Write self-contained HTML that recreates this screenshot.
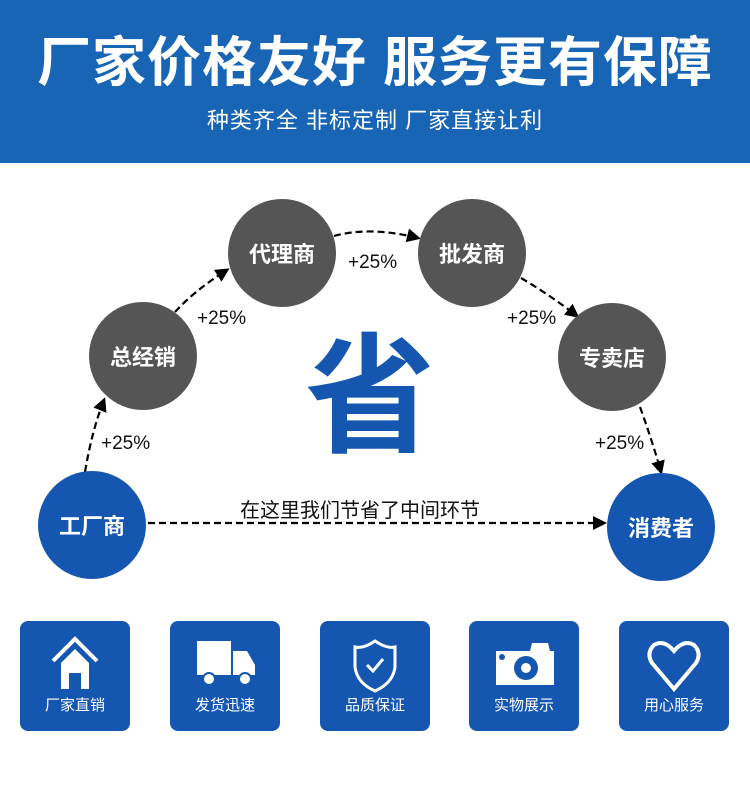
<!DOCTYPE html>
<html><head><meta charset="utf-8"><style>
*{margin:0;padding:0}
body{width:750px;height:797px;background:#fff;position:relative;overflow:hidden;font-family:"Liberation Sans","Noto Sans CJK SC",sans-serif}
.hdr{position:absolute;left:0;top:0;width:750px;height:163px;background:#1865b5}
.t1{position:absolute;left:0;width:750px;top:32px;text-align:center;color:#fff;font-size:54px;font-weight:bold;letter-spacing:1px;line-height:62px}
.t2{position:absolute;left:0;width:750px;top:103px;text-align:center;color:#fff;font-size:22px;letter-spacing:1px}
.c{position:absolute;width:108px;height:108px;border-radius:50%;color:#fff;font-size:22px;font-weight:bold;display:flex;align-items:center;justify-content:center}
.g{background:#555}.b{background:#1557b0}
.p{position:absolute;font-size:19px;color:#111}
.box{position:absolute;top:621px;width:110px;height:110px;border-radius:8px;background:#1557b0}
.box span{position:absolute;left:0;width:110px;top:73px;text-align:center;color:#fff;font-size:15px}
.box svg{position:absolute;left:25px;top:14px}
</style></head><body>
<div class="hdr"></div>
<div class="t1">厂家价格友好 服务更有保障</div>
<div class="t2">种类齐全 非标定制 厂家直接让利</div>
<svg style="position:absolute;left:0;top:0" width="750" height="600">
<defs><marker id="a" markerUnits="userSpaceOnUse" markerWidth="14" markerHeight="14" refX="11" refY="7" orient="auto"><path d="M0,0 L14,7 L0,14z" fill="#000"/></marker></defs>
<g stroke="#000" stroke-width="2.2" stroke-dasharray="7,4" fill="none">
<path d="M85,472 Q92,430 104,400" marker-end="url(#a)"/>
<path d="M175,312 Q195,290 227,270" marker-end="url(#a)"/>
<path d="M334,236 Q370,226 418,238" marker-end="url(#a)"/>
<path d="M521,278 Q550,295 577,316" marker-end="url(#a)"/>
<path d="M640,407 Q652,440 661,472" marker-end="url(#a)"/>
<path d="M148,523 L604,523" marker-end="url(#a)"/>
</g></svg>
<div class="c b" style="left:38px;top:471px">工厂商</div>
<div class="c g" style="left:89px;top:302px">总经销</div>
<div class="c g" style="left:228px;top:199px">代理商</div>
<div class="c g" style="left:418px;top:199px">批发商</div>
<div class="c g" style="left:558px;top:303px">专卖店</div>
<div class="c b" style="left:607px;top:473px">消费者</div>
<div class="p" style="left:101px;top:433px">+25%</div>
<div class="p" style="left:197px;top:308px">+25%</div>
<div class="p" style="left:348px;top:252px">+25%</div>
<div class="p" style="left:507px;top:308px">+25%</div>
<div class="p" style="left:595px;top:433px">+25%</div>
<div style="position:absolute;left:240px;top:494px;font-size:20px;color:#111">在这里我们节省了中间环节</div>
<div style="position:absolute;left:305px;top:322px;font-size:130px;font-weight:bold;color:#1557b0;line-height:150px">省</div>
<div class="box" style="left:20px"><svg width="60" height="60" viewBox="0 0 60 60"><path d="M8,26 L30,4 L52,26" stroke="#fff" stroke-width="4" fill="none"/><path d="M16,28 L30,14 L44,28 L44,54 L36,54 L36,38 L24,38 L24,54 L16,54z" fill="#fff"/></svg><span>厂家直销</span></div>
<div class="box" style="left:170px"><svg width="60" height="60" viewBox="0 0 60 60"><rect x="2" y="6" width="34" height="34" fill="#fff"/><path d="M38,16 L52,16 L60,30 L60,40 L38,40z" fill="#fff"/><circle cx="14" cy="44" r="6" fill="#fff" stroke="#1557b0" stroke-width="2"/><circle cx="50" cy="44" r="6" fill="#fff" stroke="#1557b0" stroke-width="2"/></svg><span>发货迅速</span></div>
<div class="box" style="left:320px"><svg width="60" height="60" viewBox="0 0 60 60"><path d="M30,6 Q42,14 50,12 L50,32 Q48,48 30,56 Q12,48 10,32 L10,12 Q18,14 30,6z" fill="none" stroke="#fff" stroke-width="3"/><path d="M22,30 L28,36 L38,24" stroke="#fff" stroke-width="3" fill="none"/></svg><span>品质保证</span></div>
<div class="box" style="left:469px"><svg width="60" height="60" viewBox="0 0 60 60"><path d="M2,16 L36,16 L38,8 L54,8 L56,16 L60,16 L60,50 L2,50z" fill="#fff"/><circle cx="32" cy="33" r="12" fill="#1557b0"/><circle cx="32" cy="33" r="5" fill="#fff"/><circle cx="8" cy="22" r="3" fill="#1557b0"/></svg><span>实物展示</span></div>
<div class="box" style="left:619px"><svg width="60" height="60" viewBox="0 0 60 60"><path d="M30,54 L8,28 Q2,18 10,10 Q20,4 30,16 Q40,4 50,10 Q58,18 52,28z" fill="none" stroke="#fff" stroke-width="4"/></svg><span>用心服务</span></div>
</body></html>
